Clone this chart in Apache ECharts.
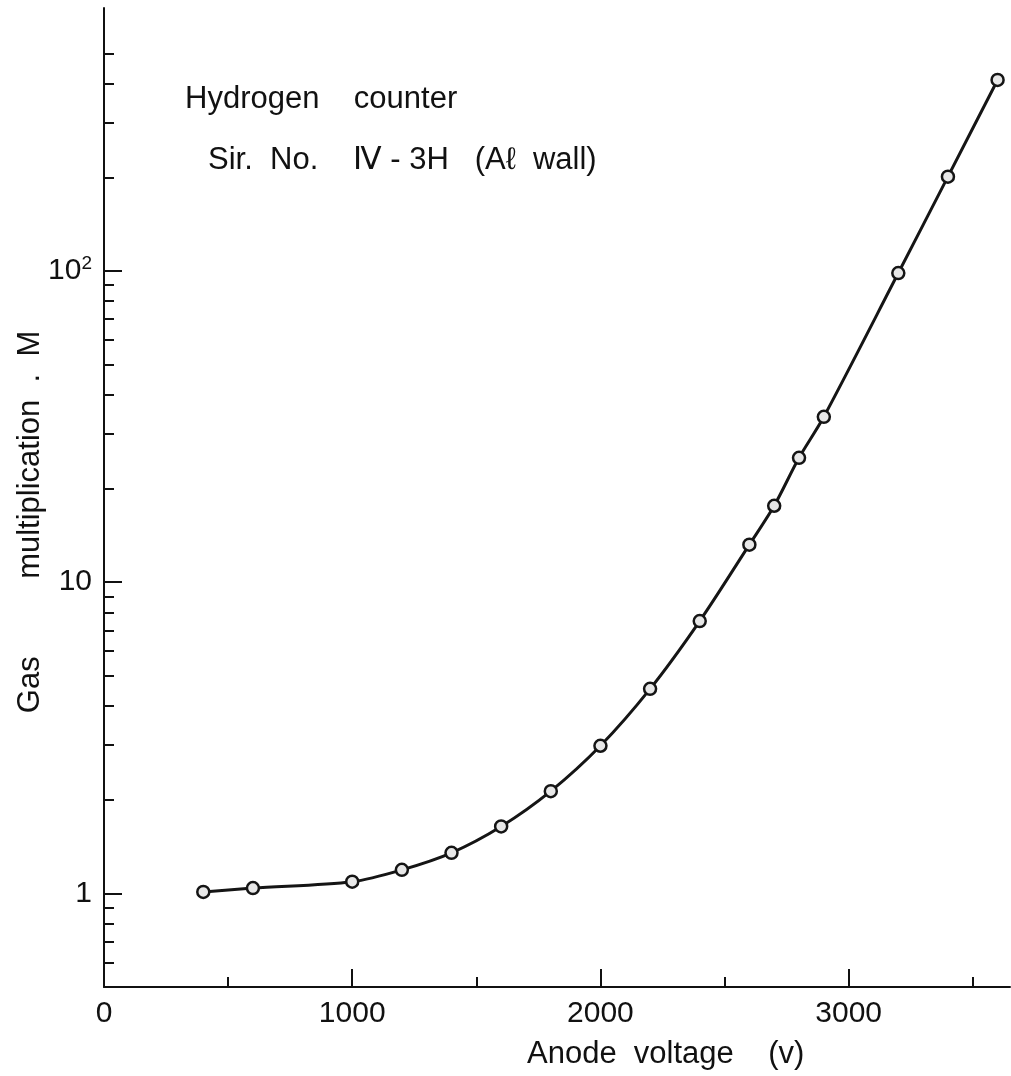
<!DOCTYPE html>
<html>
<head>
<meta charset="utf-8">
<script src="https://cdn.jsdelivr.net/npm/echarts@6/dist/echarts.min.js"></script>
<style>
html,body{margin:0;padding:0;background:#fff;}
#chart{width:1011px;height:1076px;}
</style>
</head>
<body>
<div id="chart"></div>
<script>
// ---- data ----
const voltages = [400, 600, 1000, 1200, 1400, 1600, 1800, 2000, 2200, 2400, 2600, 2700, 2800, 2900, 3200, 3400, 3600];
const multiplication = [1.01, 1.04, 1.09, 1.19, 1.35, 1.64, 2.13, 2.98, 4.54, 7.5, 13.2, 17.6, 25.1, 34.0, 98.5, 201, 411];
const xLabelValues = [0, 1000, 2000, 3000];
const xMajorTicks = [1000, 2000, 3000];
const xMinorTicks = [500, 1500, 2500, 3500];
const yLabelValues = [1, 10, 100];
const yMajorTicks = [1, 10, 100];
const yMinorTicks = [0.6, 0.7, 0.8, 0.9, 2, 3, 4, 5, 6, 7, 8, 9, 20, 30, 40, 50, 60, 70, 80, 90, 200, 300, 400, 500];
const titleLines = ['Hydrogen    counter', 'Sir.  No.    \u2163 - 3H   (A\u2113  wall)'];
const xAxisTitle = 'Anode  voltage    (v)';
const yAxisTitle = 'Gas         multiplication  .  M';

const FONT = '"Liberation Sans", Arial, sans-serif';
const INK = '#111';
const X_MIN = 0, X_MAX = 3650, Y_MIN = 0.5, Y_MAX = 700;

const chart = echarts.init(document.getElementById('chart'), null, {renderer: 'canvas'});
const axisLine = {show: true, onZero: false, lineStyle: {color: INK, width: 2}};
const option = {
  backgroundColor: '#fff',
  animation: false,
  grid: {left: 104, right: 1, top: 8, bottom: 89, containLabel: false},
  xAxis: [
    {
      type: 'value', min: X_MIN, max: X_MAX,
      axisLine: axisLine,
      splitLine: {show: false},
      axisTick: {show: true, inside: true, length: 18, lineStyle: {color: INK, width: 2}, customValues: xMajorTicks},
      axisLabel: {show: true, margin: 12, fontSize: 30, fontFamily: FONT, color: INK, customValues: xLabelValues,
        formatter: function (v) { return String(v); }}
    },
    {
      type: 'value', min: X_MIN, max: X_MAX, position: 'bottom',
      axisLine: {show: false},
      splitLine: {show: false},
      axisTick: {show: true, inside: true, length: 10, lineStyle: {color: INK, width: 2}, customValues: xMinorTicks},
      axisLabel: {show: false}
    }
  ],
  yAxis: [
    {
      type: 'log', logBase: 10, min: Y_MIN, max: Y_MAX,
      axisLine: axisLine,
      splitLine: {show: false},
      axisTick: {show: true, inside: true, length: 18, lineStyle: {color: INK, width: 2}, customValues: yMajorTicks},
      axisLabel: {
        show: true, margin: 12, fontSize: 30, fontFamily: FONT, color: INK, customValues: yLabelValues,
        formatter: function (v) { return v >= 100 ? '10{sup|2}' : String(Math.round(v)); },
        rich: {sup: {fontSize: 19, fontFamily: FONT, color: INK, verticalAlign: 'top', padding: [0, 0, 14, 0]}}
      }
    },
    {
      type: 'log', logBase: 10, min: Y_MIN, max: Y_MAX, position: 'left',
      axisLine: {show: false},
      splitLine: {show: false},
      axisTick: {show: true, inside: true, length: 10, lineStyle: {color: INK, width: 2}, customValues: yMinorTicks},
      axisLabel: {show: false}
    }
  ],
  graphic: [
    {type: 'text', left: 185, top: 84, style: {text: titleLines[0], font: '31px ' + FONT, fill: INK}},
    {type: 'text', left: 208, top: 145, style: {text: titleLines[1], font: '31px ' + FONT, fill: INK}},
    {type: 'text', left: 527, top: 1039, style: {text: xAxisTitle, font: '31px ' + FONT, fill: INK}},
    {type: 'text', x: 30, y: 522, rotation: Math.PI / 2, style: {text: yAxisTitle, font: '31px ' + FONT, fill: INK, align: 'center', verticalAlign: 'middle'}}
  ],
  series: [{
    type: 'line',
    data: voltages.map((v, i) => [v, multiplication[i]]),
    smooth: 0.3,
    symbol: 'circle',
    symbolSize: 12,
    lineStyle: {color: '#151515', width: 3},
    itemStyle: {color: '#e8e8e8', borderColor: '#151515', borderWidth: 2.5}
  }]
};
chart.setOption(option);
</script>
</body>
</html>
